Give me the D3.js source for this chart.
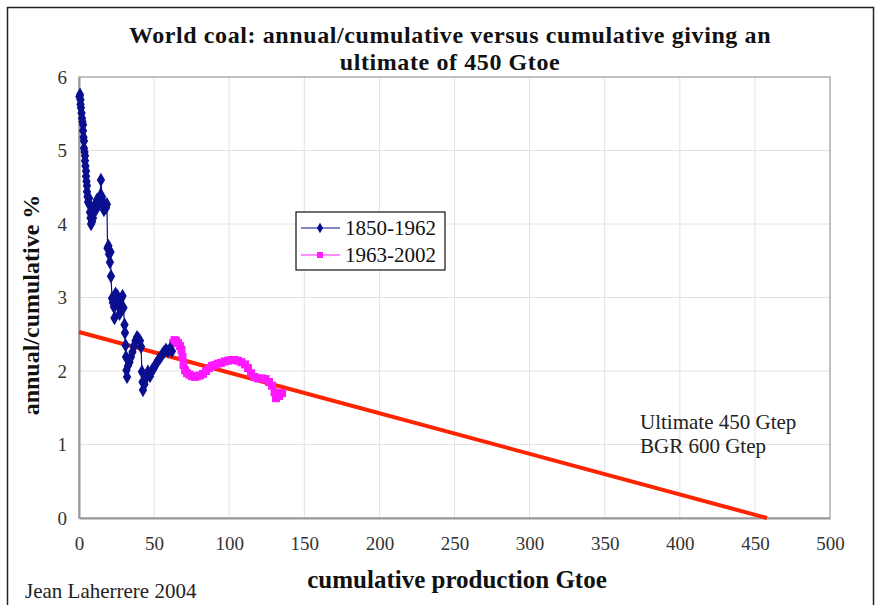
<!DOCTYPE html>
<html>
<head>
<meta charset="utf-8">
<script src="https://cdn.jsdelivr.net/npm/d3@7"></script>
<style>
  html, body { margin: 0; padding: 0; background: #fff; }
  svg { display: block; }
</style>
</head>
<body>
<svg id="chart" width="881" height="605"></svg>
<script>
// Cumulative production (Gtoe) and annual/cumulative ratio (%), 1850-1962
const early_cum = [0.3, 0.7, 1.0, 1.0, 1.3, 1.7, 2.0, 2.3, 2.7, 2.7, 3.0, 3.3, 3.3, 3.7, 4.0, 4.0, 4.3, 4.7, 4.7, 5.0,
  5.3, 5.3, 5.7, 6.0, 6.7, 7.0, 7.3, 7.7, 8.0, 8.7, 9.3, 10.0, 10.7, 11.3, 12.0, 12.6, 13.3, 14.0, 14.6, 15.3,
  16.0, 16.6, 17.3, 18.0, 18.6, 19.0, 19.6, 20.0, 20.6, 21.0, 21.3, 22.0, 22.6, 23.3, 23.6, 24.3, 25.0, 25.6, 26.3, 27.0,
  27.6, 28.3, 29.0, 29.6, 30.3, 30.6, 31.0, 31.3, 31.6, 32.0, 32.6, 33.6, 34.6, 35.6, 36.6, 37.6, 38.6, 39.6, 40.6, 41.3,
  41.9, 42.3, 42.6, 43.6, 44.6, 45.9, 47.3, 48.6, 49.9, 51.3, 52.6, 53.9, 55.3, 56.6, 57.9, 59.3, 60.6, 61.9];
const early_ratio = [5.73, 5.76, 5.69, 5.63, 5.58, 5.51, 5.44, 5.39, 5.35, 5.27, 5.18, 5.13, 5.03, 4.98, 4.93, 4.86, 4.79, 4.72, 4.65, 4.58,
  4.52, 4.44, 4.37, 4.30, 4.35, 4.26, 4.16, 4.08, 4.00, 4.03, 4.08, 4.15, 4.23, 4.29, 4.33, 4.24, 4.29, 4.38, 4.60, 4.37,
  4.26, 4.19, 4.26, 4.22, 4.27, 3.67, 3.70, 3.59, 3.48, 3.62, 3.29, 2.99, 2.93, 2.87, 2.72, 3.05, 2.97, 3.02, 2.88, 2.78,
  2.97, 2.83, 3.02, 2.86, 2.63, 2.52, 2.35, 2.19, 2.01, 1.92, 2.07, 2.12, 2.19, 2.26, 2.34, 2.41, 2.46, 2.44, 2.41, 2.33,
  1.99, 1.85, 1.74, 1.82, 1.90, 1.99, 1.93, 2.01, 2.04, 2.10, 2.14, 2.18, 2.22, 2.26, 2.29, 2.27, 2.30, 2.27];

// Same measures, 1963-2002
const late_cum = [62.6, 63.6, 64.6, 65.9, 67.2, 68.2, 68.9, 69.6, 70.6, 71.9, 73.6, 75.2, 77.2, 78.9, 80.6, 82.6, 84.6, 86.6, 88.5, 90.5,
  92.5, 94.5, 96.9, 99.2, 101.2, 103.5, 105.9, 108.2, 110.5, 112.5, 114.5, 116.8, 119.2, 121.8, 124.2, 126.5, 128.5, 130.2, 131.2, 133.2, 135.2];
const late_ratio = [2.38, 2.42, 2.41, 2.38, 2.34, 2.29, 2.19, 2.08, 2.01, 1.97, 1.95, 1.93, 1.92, 1.93, 1.94, 1.96, 2.00, 2.04, 2.07, 2.08,
  2.10, 2.11, 2.13, 2.14, 2.15, 2.15, 2.14, 2.12, 2.09, 2.04, 1.97, 1.92, 1.90, 1.90, 1.89, 1.85, 1.80, 1.71, 1.63, 1.66, 1.70];

// Linear trend: intercept at zero cumulative, reaching zero near the ultimate
const trend_cum = [0, 458];
const trend_ratio = [2.53, 0];

const x_ticks = [0, 50, 100, 150, 200, 250, 300, 350, 400, 450, 500];
const y_ticks = [0, 1, 2, 3, 4, 5, 6];
const series_names = ["1850-1962", "1963-2002"];

(function draw() {
  const svg = d3.select("#chart");
  const plotL = 79, plotR = 830, plotT = 77, plotB = 518;
  const serif = "'Liberation Serif', 'Times New Roman', serif";

  // Outer frame
  svg.append("rect").attr("x", 7.5).attr("y", 7.5).attr("width", 866).attr("height", 620)
    .attr("fill", "none").attr("stroke", "#222").attr("stroke-width", 1.5);

  const x = d3.scaleLinear().domain([0, 500]).range([plotL, plotR]);
  const y = d3.scaleLinear().domain([0, 6]).range([plotB, plotT]);

  // Grid
  const grid = svg.append("g");
  grid.selectAll(".gx").data(x_ticks.slice(1, -1)).join("line")
    .attr("x1", d => x(d)).attr("x2", d => x(d)).attr("y1", plotT).attr("y2", plotB)
    .attr("stroke", "#e2e2e2").attr("stroke-width", 1);
  grid.selectAll(".gy").data(y_ticks.slice(1, -1)).join("line")
    .attr("x1", plotL).attr("x2", plotR).attr("y1", d => y(d)).attr("y2", d => y(d))
    .attr("stroke", "#e2e2e2").attr("stroke-width", 1);

  // Plot frame
  svg.append("rect").attr("x", plotL).attr("y", plotT).attr("width", plotR - plotL).attr("height", plotB - plotT)
    .attr("fill", "none").attr("stroke", "#999").attr("stroke-width", 1.2);

  // Axes
  const xAxis = svg.append("g").attr("transform", `translate(0,${plotB})`)
    .call(d3.axisBottom(x).tickValues(x_ticks).tickSize(0).tickPadding(19).tickFormat(d3.format("d")));
  const yAxis = svg.append("g").attr("transform", `translate(${plotL},0)`)
    .call(d3.axisLeft(y).tickValues(y_ticks).tickSize(0).tickPadding(12).tickFormat(d3.format("d")));
  [xAxis, yAxis].forEach(a => {
    a.select(".domain").attr("stroke", "#999").attr("stroke-width", 2);
    a.selectAll("text").attr("font-family", serif).attr("font-size", 19).attr("fill", "#333");
  });

  // Trend line
  svg.append("line")
    .attr("x1", x(trend_cum[0])).attr("y1", y(trend_ratio[0]))
    .attr("x2", x(trend_cum[1])).attr("y2", y(trend_ratio[1]))
    .attr("stroke", "#ff2400").attr("stroke-width", 4);

  const line = d3.line().x(d => x(d[0])).y(d => y(d[1]));
  const early = early_cum.map((c, i) => [c, early_ratio[i]]);
  const late = late_cum.map((c, i) => [c, late_ratio[i]]);

  const navy = "#0a0f8f", magenta = "#ff19ff";

  // 1963-2002 series
  svg.append("path").datum(late).attr("d", line)
    .attr("fill", "none").attr("stroke", magenta).attr("stroke-width", 1.2);
  svg.selectAll(".late").data(late).join("rect").attr("class", "late")
    .attr("x", d => x(d[0]) - 4).attr("y", d => y(d[1]) - 4)
    .attr("width", 8).attr("height", 8).attr("fill", magenta);

  // 1850-1962 series
  const diamond = d3.symbol().type(d3.symbolDiamond).size(60);
  svg.append("path").datum(early).attr("d", line)
    .attr("fill", "none").attr("stroke", navy).attr("stroke-width", 1.2);
  svg.selectAll(".early").data(early).join("path").attr("class", "early")
    .attr("transform", d => `translate(${x(d[0])},${y(d[1])})`)
    .attr("d", diamond).attr("fill", navy);

  // Legend
  const lg = svg.append("g");
  lg.append("rect").attr("x", 296).attr("y", 212).attr("width", 149).attr("height", 58)
    .attr("fill", "#fff").attr("stroke", "#111").attr("stroke-width", 1.2);
  const legendRows = [
    { name: series_names[0], color: navy, shape: "diamond", yy: 228 },
    { name: series_names[1], color: magenta, shape: "square", yy: 255 }
  ];
  legendRows.forEach(r => {
    lg.append("line").attr("x1", 301).attr("x2", 340).attr("y1", r.yy).attr("y2", r.yy)
      .attr("stroke", r.color).attr("stroke-width", 1.2);
    if (r.shape === "diamond") {
      lg.append("path").attr("transform", `translate(320,${r.yy})`)
        .attr("d", d3.symbol().type(d3.symbolDiamond).size(32)).attr("fill", r.color);
    } else {
      lg.append("rect").attr("x", 317).attr("y", r.yy - 3).attr("width", 6).attr("height", 6).attr("fill", r.color);
    }
    lg.append("text").attr("x", 345).attr("y", r.yy + 7).text(r.name)
      .attr("font-family", serif).attr("font-size", 21).attr("fill", "#111");
  });

  // Titles
  const titleLines = ["World coal: annual/cumulative versus cumulative giving an", "ultimate of 450 Gtoe"];
  svg.selectAll(".title").data(titleLines).join("text").attr("class", "title")
    .attr("x", 450).attr("y", (d, i) => 43 + i * 27).attr("text-anchor", "middle")
    .attr("font-family", serif).attr("font-weight", "bold").attr("font-size", 24)
    .attr("letter-spacing", 0.6).attr("fill", "#111")
    .text(d => d);

  svg.append("text").attr("x", 457).attr("y", 588).attr("text-anchor", "middle")
    .attr("font-family", serif).attr("font-weight", "bold").attr("font-size", 25).attr("fill", "#111")
    .text("cumulative production Gtoe");

  svg.append("text").attr("transform", "translate(39,305) rotate(-90)").attr("text-anchor", "middle")
    .attr("font-family", serif).attr("font-weight", "bold").attr("font-size", 24).attr("fill", "#111")
    .text("annual/cumulative %");

  svg.append("text").attr("x", 25).attr("y", 598)
    .attr("font-family", serif).attr("font-size", 21).attr("fill", "#222")
    .text("Jean Laherrere 2004");

  const note = svg.append("text").attr("font-family", serif).attr("font-size", 21).attr("fill", "#222");
  note.append("tspan").attr("x", 640).attr("y", 429).text("Ultimate 450 Gtep");
  note.append("tspan").attr("x", 640).attr("y", 453).text("BGR 600 Gtep");
})();
</script>
</body>
</html>
